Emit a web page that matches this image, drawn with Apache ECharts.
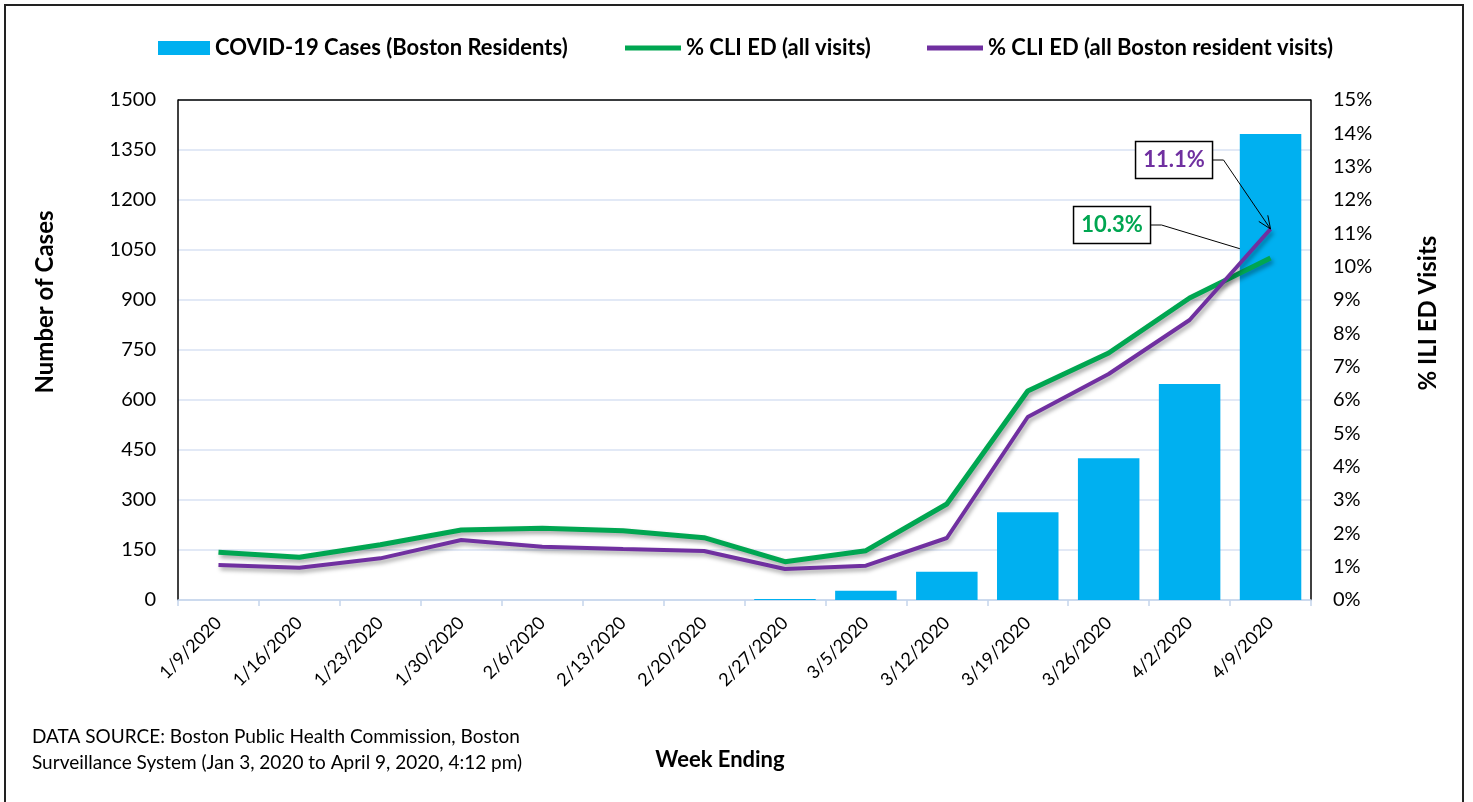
<!DOCTYPE html>
<html>
<head>
<meta charset="utf-8">
<script src="https://cdn.jsdelivr.net/npm/echarts@6/dist/echarts.min.js"></script>
<style>
	html, body { margin: 0; padding: 0; background: #fff; }
	#chart { width: 1473px; height: 802px; }
</style>
</head>
<body>
<div id="chart"></div>
<script>
var weeks = ['1/9/2020', '1/16/2020', '1/23/2020', '1/30/2020', '2/6/2020', '2/13/2020', '2/20/2020',
	'2/27/2020', '3/5/2020', '3/12/2020', '3/19/2020', '3/26/2020', '4/2/2020', '4/9/2020'];
var cases = [0, 0, 0, 0, 0, 0, 0, 3, 28, 85, 263, 425, 648, 1398];
var cliAll = [1.43, 1.28, 1.66, 2.1, 2.15, 2.08, 1.87, 1.15, 1.48, 2.88, 6.27, 7.41, 9.06, 10.26];
var cliBoston = [1.05, 0.97, 1.25, 1.8, 1.6, 1.53, 1.47, 0.93, 1.03, 1.86, 5.49, 6.78, 8.4, 11.13];
var leftTicks = { min: 0, max: 1500, interval: 150 };
var rightTicks = { min: 0, max: 15, interval: 1 };

var names = ['COVID-19 Cases (Boston Residents)', '% CLI ED (all visits)', '% CLI ED (all Boston resident visits)'];
var font = 'Lato';
var blue = '#00B0F0', green = '#00A651', purple = '#7030A0';
var gridLine = '#D9E2F3';

var chart = echarts.init(document.getElementById('chart'));

var gl = 178, gt = 100, gr = 162, gb = 202;
var legendText = { fontFamily: font, fontWeight: 'bold', fontSize: 22, color: '#000' };

var option = {
	animation: false,
	backgroundColor: '#fff',
	textStyle: { fontFamily: font },
	legend: [
		{ data: [names[0]], left: 153, top: 32, icon: 'rect', itemWidth: 52, itemHeight: 14, textStyle: legendText },
		{ data: [names[1]], left: 620, top: 32, icon: 'rect', itemWidth: 56, itemHeight: 5, textStyle: legendText },
		{ data: [names[2]], left: 922, top: 32, icon: 'rect', itemWidth: 56, itemHeight: 5, textStyle: legendText }
	],
	grid: { left: gl, top: gt, right: gr, bottom: gb, containLabel: false },
	xAxis: {
		type: 'category',
		data: weeks,
		boundaryGap: true,
		axisLine: { lineStyle: { color: '#C5D5EC', width: 1.5 } },
		axisTick: { show: true, length: 6, lineStyle: { color: '#C5D5EC', width: 1.5 } },
		axisLabel: { rotate: 45, fontFamily: font, fontSize: 18, color: '#000', margin: 20, interval: 0 }
	},
	yAxis: [
		{
			type: 'value', min: leftTicks.min, max: leftTicks.max, interval: leftTicks.interval,
			axisLine: { show: true, lineStyle: { color: '#000', width: 1.5 } },
			axisTick: { show: false },
			axisLabel: { fontFamily: font, fontSize: 20, color: '#000', margin: 22, formatter: function (v) { return String(v); } },
			splitLine: { lineStyle: { color: gridLine, width: 1.5 } }
		},
		{
			type: 'value', min: rightTicks.min, max: rightTicks.max, interval: rightTicks.interval,
			axisLine: { show: true, lineStyle: { color: '#000', width: 1.5 } },
			axisTick: { show: false },
			axisLabel: { fontFamily: font, fontSize: 20, color: '#000', margin: 22, formatter: '{value}%' },
			splitLine: { show: false }
		}
	],
	series: [
		{
			name: names[0], type: 'bar', data: cases, yAxisIndex: 0,
			barCategoryGap: '24%', itemStyle: { color: blue }, z: 3
		},
		{
			name: names[1], type: 'line', data: cliAll, yAxisIndex: 1, symbol: 'none', z: 4,
			itemStyle: { color: green },
			lineStyle: { color: green, width: 5, shadowColor: 'rgba(0,0,0,0.35)', shadowBlur: 4, shadowOffsetX: 2, shadowOffsetY: 3 }
		},
		{
			name: names[2], type: 'line', data: cliBoston, yAxisIndex: 1, symbol: 'none', z: 5,
			itemStyle: { color: purple },
			lineStyle: { color: purple, width: 4, shadowColor: 'rgba(0,0,0,0.35)', shadowBlur: 4, shadowOffsetX: 2, shadowOffsetY: 3 }
		}
	]
};
chart.setOption(option);

// annotations anchored on the last points
var last = weeks.length - 1;
var pPurple = chart.convertToPixel({ seriesIndex: 2 }, [last, cliBoston[last]]);
var pGreen = chart.convertToPixel({ seriesIndex: 1 }, [last, cliAll[last]]);

function callout(p, dx, dy, text, color, z) {
	var bw = 77, bh = 37;
	var bx = p[0] + dx, by = p[1] + dy;
	var els = [
		{ type: 'rect', z: z, shape: { x: bx - bw, y: by - bh / 2, width: bw, height: bh },
			style: { fill: '#fff', stroke: '#000', lineWidth: 1.5 } },
		{ type: 'text', z: z + 1, x: bx - bw / 2, y: by,
			style: { text: text, fill: color, font: 'bold 22px ' + font, textAlign: 'center', textVerticalAlign: 'middle' } },
		{ type: 'polyline', z: z, shape: { points: [[bx, by], [bx + 11, by], p] },
			style: { stroke: '#000', lineWidth: 1, fill: null } }
	];
	return els;
}

var ann = callout(pPurple, -58, -69, (Math.round(cliBoston[last] * 10) / 10) + '%', purple, 10);
// arrow head on purple callout
var ax = pPurple[0] - 58 + 11, ay = pPurple[1] - 69;
var ang = Math.atan2(pPurple[1] - ay, pPurple[0] - ax);
var hl = 14, hs = 0.4;
ann.push({ type: 'polyline', z: 10,
	shape: { points: [
		[pPurple[0] - hl * Math.cos(ang - hs), pPurple[1] - hl * Math.sin(ang - hs)],
		pPurple,
		[pPurple[0] - hl * Math.cos(ang + hs), pPurple[1] - hl * Math.sin(ang + hs)]
	] },
	style: { stroke: '#000', lineWidth: 1, fill: null } });

var ann2 = callout(pGreen, -120, -33, (Math.round(cliAll[last] * 10) / 10) + '%', green, 10);
// leader of the green callout passes behind the bar
ann2[2].z = 1;

var graphics = [
	{ type: 'rect', z: 0, shape: { x: 5, y: 5, width: 1458, height: 820 },
		style: { fill: null, stroke: '#222', lineWidth: 2 } },
	{ type: 'line', z: 2, shape: { x1: gl, y1: gt, x2: 1473 - gr, y2: gt },
		style: { stroke: '#000', lineWidth: 1.5 } },
	{ type: 'text', x: 45, y: 302, rotation: Math.PI / 2,
		style: { text: 'Number of Cases', font: 'bold 24px ' + font, fill: '#000', textAlign: 'center', textVerticalAlign: 'middle' } },
	{ type: 'text', x: 1428, y: 313, rotation: Math.PI / 2,
		style: { text: '% ILI ED Visits', font: 'bold 24px ' + font, fill: '#000', textAlign: 'center', textVerticalAlign: 'middle' } },
	{ type: 'text', x: 720, y: 760,
		style: { text: 'Week Ending', font: 'bold 22px ' + font, fill: '#000', textAlign: 'center', textVerticalAlign: 'middle' } },
	{ type: 'text', x: 32, y: 750,
		style: { text: 'DATA SOURCE: Boston Public Health Commission, Boston\nSurveillance System (Jan 3, 2020 to April 9, 2020, 4:12 pm)',
			font: '19px ' + font, fill: '#000', lineHeight: 26, textAlign: 'left', textVerticalAlign: 'middle' } }
];

chart.setOption({ graphic: graphics.concat(ann, ann2) });
</script>
</body>
</html>
